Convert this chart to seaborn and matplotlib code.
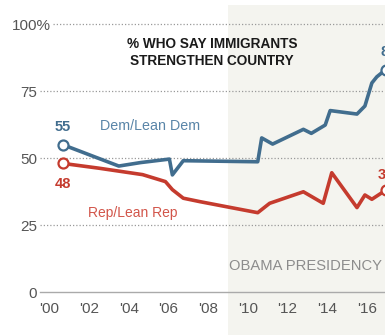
import matplotlib
matplotlib.use("Agg")
import matplotlib.pyplot as plt
import matplotlib.transforms as mtransforms
import seaborn as sns
import pandas as pd

# ---- data ----
dem_years = [2000.67, 2003.5, 2004.6, 2006.05, 2006.2, 2006.75, 2010.5, 2010.7,
             2011.25, 2012.8, 2013.2, 2013.9, 2014.15, 2015.5, 2015.9, 2016.25,
             2016.5, 2016.95]
dem_values = [55, 47, 48.3, 49.6, 43.7, 49, 48.6, 57.5, 55.2, 60.7, 59.2, 62.3,
              67.7, 66.4, 69.4, 78, 80.3, 83]
rep_years = [2000.67, 2002.5, 2004.7, 2005.85, 2006.2, 2006.75, 2007.6, 2010.5,
             2011.1, 2012.8, 2013.8, 2014.23, 2015.5, 2015.9, 2016.25, 2016.95]
rep_values = [48, 46.2, 43.8, 41.2, 38.2, 35, 33.7, 29.6, 33.1, 37.4, 33.1,
              44.5, 31.5, 36.2, 34.6, 38]

x_tick_years = list(range(2000, 2017))
x_tick_labels = ["'%02d" % (y % 100) if y % 2 == 0 else "" for y in x_tick_years]
y_ticks = [0, 25, 50, 75, 100]
y_tick_labels = ["0", "25", "50", "75", "100%"]
obama_start = 2009
title = "% WHO SAY IMMIGRANTS\nSTRENGTHEN COUNTRY"

DEM = "#416d8e"
REP = "#c53b2e"
DEM_TXT = "#5985a8"
REP_TXT = "#d2554a"
SHADE = "#f4f4ef"

sns.set_theme(style="white")
plt.rcParams['font.family'] = ['Liberation Sans', 'DejaVu Sans']

fig = plt.figure(figsize=(3.85, 3.35), dpi=100)
ax = fig.add_axes([40 / 385, 0, 345 / 385, 1])
ax.set_xlim(1999.531, 2016.912)
ax.set_ylim(-16.04, 108.96)
ax.set_facecolor("white")

# Obama presidency shading
ax.axvspan(obama_start, 2030, ymin=0, ymax=(107.1 + 16.04) / 125.0,
           color=SHADE, lw=0, zorder=0)

df = pd.concat([
    pd.DataFrame({"year": dem_years, "value": dem_values, "party": "Dem"}),
    pd.DataFrame({"year": rep_years, "value": rep_values, "party": "Rep"}),
])
sns.lineplot(data=df, x="year", y="value", hue="party",
             palette={"Dem": DEM, "Rep": REP}, linewidth=2.6, sort=False,
             estimator=None, legend=False, ax=ax, zorder=3)
for ln in ax.lines:
    ln.set_solid_joinstyle("round")
    ln.set_solid_capstyle("round")

ends = pd.concat([df[df.party == p].iloc[[0, -1]] for p in ["Dem", "Rep"]])
for p, c in [("Dem", DEM), ("Rep", REP)]:
    sub = ends[ends.party == p]
    ax.scatter(sub.year, sub.value, s=52, facecolor="white", edgecolor=c,
               linewidth=1.6, zorder=5)

# value labels
d0, d1 = ends[ends.party == "Dem"].iloc[0], ends[ends.party == "Dem"].iloc[1]
r0, r1 = ends[ends.party == "Rep"].iloc[0], ends[ends.party == "Rep"].iloc[1]
kw = dict(textcoords="offset points", ha="center", va="center",
          fontweight="bold", fontsize=10.5, annotation_clip=False)
ax.annotate(f"{d0.value:.0f}", (d0.year, d0.value), xytext=(0, 13), color=DEM, **kw)
ax.annotate(f"{r0.value:.0f}", (r0.year, r0.value), xytext=(0, -15), color=REP, **kw)
ax.annotate(f"{d1.value:.0f}", (d1.year, d1.value), xytext=(2, 13), color=DEM, **kw)
ax.annotate(f"{r1.value:.0f}", (r1.year, r1.value), xytext=(0, 11), color=REP, **kw)

ax.text(2002.56, 61.9, "Dem/Lean Dem", color=DEM_TXT, fontsize=10.3,
        ha="left", va="center")
ax.text(2001.95, 29.5, "Rep/Lean Rep", color=REP_TXT, fontsize=10.0,
        ha="left", va="center")
ax.text(obama_start + 0.05, 9.7, "OBAMA PRESIDENCY", color="#8c8c8c",
        fontsize=10.6, ha="left", va="center")
ax.text(0.4986, 0.8433, title, transform=ax.transAxes, ha="center",
        va="center", fontweight="bold", fontsize=9.8, linespacing=1.35,
        color="#1a1a1a")

# axes styling
for s in ["top", "right", "left"]:
    ax.spines[s].set_visible(False)
ax.spines["bottom"].set_position(("data", 0))
ax.spines["bottom"].set_color("#aaaaaa")
ax.spines["bottom"].set_linewidth(1.0)

ax.set_xticks(x_tick_years)
ax.set_xticklabels(x_tick_labels)
ax.set_yticks(y_ticks)
ax.set_yticklabels(y_tick_labels)
ax.tick_params(axis="x", direction="out", length=4, width=1, color="#aaaaaa",
               labelsize=11, labelcolor="#555555", pad=3.5)
ax.tick_params(axis="y", length=0, labelsize=11, labelcolor="#555555", pad=2.2)
ax.set_xlabel("")
ax.set_ylabel("")

ax.yaxis.grid(True, color="#9a9a9a", linestyle=(0, (1, 1.6)), linewidth=0.9)
ax.xaxis.grid(False)
ax.set_axisbelow(True)
gl = ax.yaxis.get_gridlines()
gl[0].set_visible(False)

# let the "%" of 100% hang past the label column
lab100 = ax.get_yticklabels()[-1]
lab100.set_transform(lab100.get_transform() +
                     mtransforms.ScaledTranslation(9.8 / 72, 0, fig.dpi_scale_trans))
lab100.set_bbox(dict(facecolor="white", edgecolor="none", pad=1.5))

fig.savefig("out.png", dpi=100)
